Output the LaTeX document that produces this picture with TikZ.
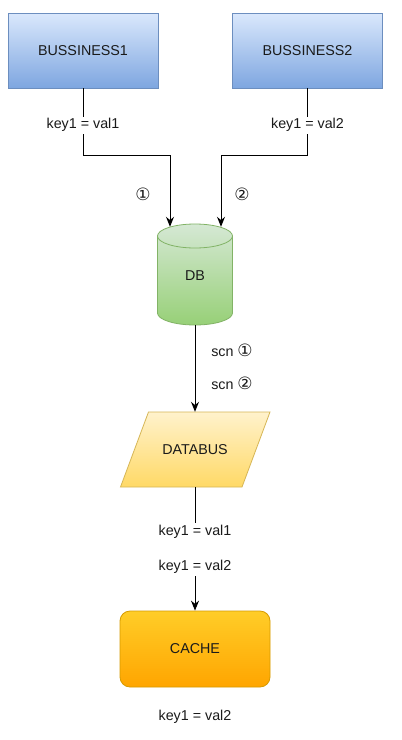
\documentclass[tikz,border=0pt]{standalone}
\usepackage{fontspec}
\setmainfont{Liberation Sans}
\newfontfamily\dv{DejaVu Sans}
\usetikzlibrary{arrows.meta,calc}
\definecolor{bluetop}{HTML}{DAE8FC}
\definecolor{bluebot}{HTML}{7EA6E0}
\definecolor{blueline}{HTML}{6C8EBF}
\definecolor{greentop}{HTML}{D5E8D4}
\definecolor{greenbot}{HTML}{97D077}
\definecolor{greenline}{HTML}{82B366}
\definecolor{yeltop}{HTML}{FFF2CC}
\definecolor{yelbot}{HTML}{FFD966}
\definecolor{yelline}{HTML}{D6B656}
\definecolor{ortop}{HTML}{FFCD28}
\definecolor{orbot}{HTML}{FFA500}
\definecolor{orline}{HTML}{D79B00}
\definecolor{txt}{HTML}{1A1A1A}
\newcommand{\circnum}[1]{{\dv\fontsize{17}{17}\selectfont #1}}
\begin{document}
\begin{tikzpicture}[x=1pt,y=-1pt,
  every node/.style={text=txt,font=\fontsize{14.3}{17}\selectfont},
  biz/.style={draw=blueline,top color=bluetop,bottom color=bluebot,minimum width=150pt,minimum height=75pt,inner sep=0pt,line width=0.8pt},
  cache/.style={draw=orline,top color=ortop,bottom color=orbot,minimum width=150pt,minimum height=76pt,rounded corners=10pt,inner sep=0pt,line width=0.8pt},
  ghost/.style={inner sep=0pt},
  lbl/.style={fill=white,inner sep=2pt},
  arr/.style={line width=1pt,-{Stealth[length=10pt,width=8pt]}},
  ln/.style={line width=1pt}]
\useasboundingbox (0,0) rectangle (402,740);
\fill[white] (0,0) rectangle (402,740);

% business boxes
\node[biz] (b1) at (83,50.5) {BUSSINESS1};
\node[biz] (b2) at (307.5,50.5) {BUSSINESS2};

% DB cylinder
\shade[top color=greentop,bottom color=greenbot,draw=greenline,line width=0.8pt]
  (157.5,236) -- (157.5,313) arc[start angle=180,end angle=0,x radius=37.5,y radius=12]
  -- (232.5,236) arc[start angle=0,end angle=-180,x radius=37.5,y radius=12] -- cycle;
\draw[greenline,line width=0.8pt] (157.5,236) arc[start angle=180,end angle=0,x radius=37.5,y radius=12];
\node[ghost,minimum width=75pt,minimum height=98pt] (db) at (195,276) {DB};

% DATABUS parallelogram
\shade[top color=yeltop,bottom color=yelbot,draw=yelline,line width=0.8pt]
  (148.5,412) -- (270,412) -- (242,487) -- (120.5,487) -- cycle;
\node[ghost,minimum width=122pt,minimum height=75pt] (bus) at (195,449.5) {DATABUS};

% CACHE
\node[cache] (cache) at (195,649) {CACHE};

% connectors
\draw[arr] (b1.south) -- node[lbl,pos=0.55] (k1) {key1 = val1} ++(0,67) -| ([xshift=-25pt]db.north);
\draw[arr] (b2.south) -- node[lbl,pos=0.55] (k2) {key1 = val2} ++(0,67) -| ([xshift=26pt]db.north);
\node (c1) at (143,194) {\circnum{①}};
\node (c2) at (242,194) {\circnum{②}};

\draw[arr] (db.south) -- (bus.north);
\node (s1) at (232,350) {scn \circnum{①}};
\node (s2) at (232,383) {scn \circnum{②}};

\draw[arr] (bus.south) -- node[lbl,pos=0.504,align=center,font=\fontsize{14.3}{35}\selectfont] (k3) {key1 = val1\\key1 = val2} (cache.north);

\node (k4) at (195,717) {key1 = val2};
\end{tikzpicture}
\end{document}
